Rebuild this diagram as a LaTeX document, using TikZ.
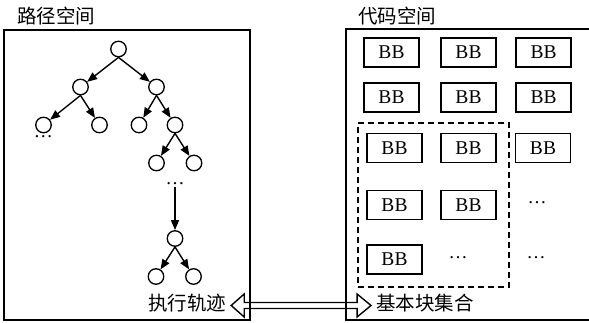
\documentclass[tikz,border=0pt]{standalone}
\usepackage{fontspec}
\setmainfont{Liberation Serif}
\newfontfamily\cjk{Noto Sans CJK SC}
\usetikzlibrary{arrows.meta,calc}
\begin{document}
\begin{tikzpicture}[x=1pt,y=-1pt,
 vert/.style={circle,draw,line width=1.3pt,minimum size=15.5pt,inner sep=0pt},
 edge/.style={line width=1.4pt,-{Triangle[length=10pt,width=8pt]}},
 bb/.style={draw,line width=1.2pt,minimum width=55pt,minimum height=29pt,inner sep=0pt,font=\fontsize{19.5}{19.5}\selectfont},
 cn/.style={font=\cjk\fontsize{19.5}{20}\selectfont,inner sep=0pt},
 dotsty/.style={font=\fontsize{19}{19}\selectfont,inner sep=0pt},
 panel/.style={draw,line width=1.6pt,inner sep=0pt}]
\useasboundingbox (0,0) rectangle (589,323);
\begin{scope}
\clip (0,0) rectangle (589,323);
% panels
\node[panel,minimum width=246pt,minimum height=290pt] (lp) at (127,175) {};
\node[panel,minimum width=250pt,minimum height=291pt] (rp) at (471,174.5) {};
\end{scope}
% titles
\node[cn,anchor=west] (t1) at (17,16) {路径空间};
\node[cn,anchor=west] (t2) at (358,16) {代码空间};
% tree
\node[vert] (r) at (118.5,49) {};
\node[vert] (a) at (80.5,87) {};
\node[vert] (b) at (156.5,87) {};
\node[vert] (a1) at (43.5,125) {};
\node[vert] (a2) at (99.5,125) {};
\node[vert] (b1) at (139,125) {};
\node[vert] (b2) at (175,125) {};
\node[dotsty] (d1) at (43.5,137) {…};
\node[vert] (b21) at (156.5,163) {};
\node[vert] (b22) at (194,163) {};
\node[dotsty] (d2) at (175,184) {…};
\node[vert] (c) at (175,238.5) {};
\node[vert] (c1) at (156,276.5) {};
\node[vert] (c2) at (193.5,276.5) {};
\draw[edge] (r.south) -- (a);
\draw[edge] (r.south) -- (b);
\draw[edge] (a.south) -- (a1);
\draw[edge] (a.south) -- (a2);
\draw[edge] (b.south) -- (b1);
\draw[edge] (b.south) -- (b2);
\draw[edge] (b2.south) -- (b21);
\draw[edge] (b2.south) -- (b22);
\draw[edge] ($(d2.south)+(0,2)$) -- (c);
\draw[edge] (c.south) -- (c1);
\draw[edge] (c.south) -- (c2);
% labels
\node[cn] (trace) at (187,303) {执行轨迹};
\node[cn] (set) at (425,303) {基本块集合};
% BB grid
\node[bb] (bb11) at (391.5,52.5) {BB};
\node[bb] (bb12) at (468.5,52.5) {BB};
\node[bb] (bb13) at (543.5,52.5) {BB};
\node[bb] (bb21) at (391.5,97.5) {BB};
\node[bb] (bb22) at (468.5,97.5) {BB};
\node[bb] (bb23) at (543.5,97.5) {BB};
\node[bb] (bb31) at (394.5,148) {BB};
\node[bb] (bb32) at (468.5,148) {BB};
\node[bb] (bb33) at (543,148) {BB};
\node[bb] (bb41) at (394.5,205) {BB};
\node[bb] (bb42) at (468.5,205) {BB};
\node[dotsty] (d43) at (537,203) {…};
\node[bb] (bb51) at (394.5,259.5) {BB};
\node[dotsty] (d52) at (458,258) {…};
\node[dotsty] (d53) at (536,258) {…};
% dashed group
\node[draw,line width=2pt,dash pattern=on 6pt off 4pt,minimum width=151pt,minimum height=164pt,inner sep=0pt] (grp) at (433.5,205) {};
% double hollow arrow
\coordinate (ta) at ($(trace.east)+(5,2.5)$);
\coordinate (tb) at ($(set.west)+(-5,2.5)$);
\draw[line width=1.4pt,line join=miter]
 (ta) -- ++(13,-11.5) -- ++(0,8.5) -- ($(tb)+(-14,-3)$) -- ++(0,-8.5) -- (tb)
 -- ++(-14,11.5) -- ++(0,-8.5) -- ($(ta)+(13,3)$) -- ++(0,8.5) -- cycle;
\end{tikzpicture}
\end{document}
